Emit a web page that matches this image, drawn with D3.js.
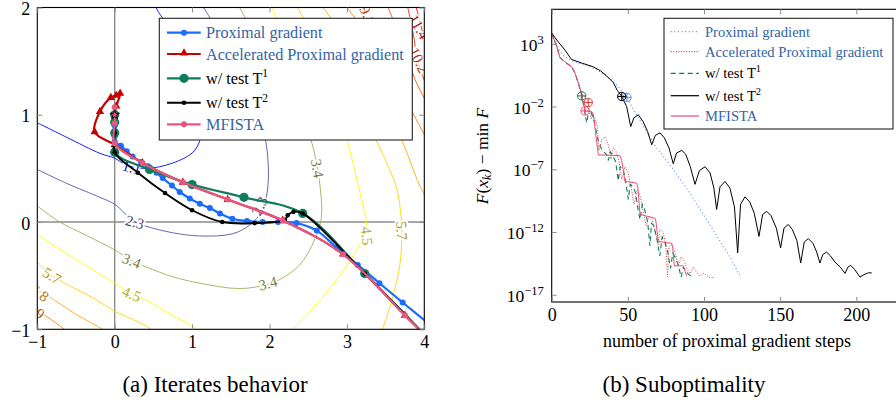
<!DOCTYPE html>
<html><head><meta charset="utf-8">
<script src="https://cdn.jsdelivr.net/npm/d3@7"></script>
<style>body{margin:0;background:#fff}svg{display:block}</style>
</head><body>
<svg id="c" width="896" height="403"></svg>
<script>
// ================= DATA =================
// Left panel: contour levels (pgfplots "hot" colormap)
const contourLevels = ["1.1","2.3","3.4","4.5","5.7","6.8","7.9","9.1","10.2","11.4"];
const contourColors = ["#0000ff","#5555aa","#aaaa55","#ffff00","#ffd400","#ffaa00","#ff8000","#ff5500","#ff2b00","#ff0000"];
const contour0 = [[-1.0,0.925],[-0.62,0.79],[-0.19,0.64],[0,0.595],[0.155,0.53],[0.41,0.50],[0.75,0.55],[1.01,0.65],[1.10,0.76],[1.16,1.04],[1.10,1.37],[0.90,1.70],[0.61,1.91],[0.52,2.02]];
const contour1 = [[-1.0,0.49],[-0.62,0.36],[-0.19,0.23],[0,0.165],[0.26,0.0],[0.41,-0.04],[0.75,-0.10],[1.10,-0.13],[1.52,-0.11],[1.74,-0.03],[1.91,0.11],[1.98,0.34],[1.98,0.58],[1.95,0.76],[1.85,1.14],[1.61,1.51],[1.29,1.84],[1.13,2.02]];
const contour2 = [[-1.02,0.16],[-0.71,0.0],[-0.35,-0.13],[0,-0.26],[0.22,-0.36],[0.41,-0.42],[0.75,-0.51],[1.10,-0.57],[1.61,-0.62],[1.98,-0.58],[2.17,-0.52],[2.39,-0.40],[2.58,-0.17],[2.67,0.04],[2.66,0.29],[2.62,0.50],[2.55,0.73],[2.39,1.04],[2.13,1.42],[1.81,1.75],[1.60,2.02]];
const contour3a = [[-1.02,-0.11],[-0.5,-0.35],[0,-0.57],[0.22,-0.67],[0.41,-0.73],[0.75,-0.87],[1.0,-0.97],[1.10,-1.03]];
const contour3b = [[2.26,-1.03],[2.30,-1.0],[2.69,-0.70],[3.04,-0.36],[3.22,-0.12],[3.25,0.0],[3.21,0.15],[3.13,0.39],[3.0,0.76],[2.78,1.18],[2.45,1.56],[2.09,1.91],[2.01,2.02]];
const contour4a = [[-1.02,-0.36],[-0.81,-0.50],[-0.65,-0.57],[-0.3,-0.70],[0,-0.83],[0.43,-0.98],[0.5,-1.03]];
const contour4b = [[3.44,-1.03],[3.53,-0.85],[3.68,-0.42],[3.71,-0.08],[3.70,0.05],[3.64,0.32],[3.38,0.76],[3.10,1.18],[2.71,1.60],[2.43,1.91],[2.35,2.02]];
const contour5a = [[-1.05,-0.60],[-0.96,-0.65],[-0.84,-0.70],[-0.5,-0.86],[-0.155,-1.0],[-0.1,-1.03]];
const contour5b = [[2.67,2.02],[3.04,1.65],[3.36,1.23],[3.71,0.76],[3.91,0.39],[3.99,0.27],[4.08,0.14]];
const contour6a = [[-1.05,-0.80],[-0.90,-0.87],[-0.65,-1.0],[-0.6,-1.03]];
const contour6b = [[2.98,2.02],[3.36,1.65],[3.68,1.28],[3.85,1.02],[3.99,0.83],[4.1,0.69]];
const contour7 = [[3.52,2.02],[3.75,1.61],[3.88,1.33],[4.01,1.14],[4.1,1.02]];
const contour8 = [[3.78,2.02],[3.86,1.75],[3.91,1.51],[4.0,1.32],[4.1,1.15]];
const contour9 = [[3.89,2.02],[3.95,1.85],[4.0,1.72],[4.1,1.55]];
const contourList = [[0,contour0],[1,contour1],[2,contour2],[3,contour3a],[3,contour3b],[4,contour4a],[4,contour4b],[5,contour5a],[5,contour5b],[6,contour6a],[6,contour6b],[7,contour7],[8,contour8],[9,contour9]];
// contour labels: level index, x, y, angle
const contourLabels = [[0,0.22,0.51,15],[1,0.26,0.0,15],[1,1.87,0.15,-65],[2,0.22,-0.36,22],[2,1.98,-0.57,-15],[2,2.62,0.50,80],
  [3,0.22,-0.67,22],[3,3.26,-0.13,85],[4,-0.81,-0.50,32],[4,3.71,-0.08,88],[5,-0.97,-0.66,35],[6,-1.02,-0.82,40],
  [7,3.27,1.93,65],[8,3.93,1.51,65],[9,3.93,1.82,60]];

// Left panel iterates
const proxGradIter = [[4.15,-1.0],[3.72,-0.75],[3.42,-0.57],[3.14,-0.40],[2.87,-0.24],[2.61,-0.08],[2.35,-0.01],[2.11,0.0],[1.91,0.0],[1.71,0.01],[1.52,0.03],[1.36,0.08],[1.23,0.13],[1.10,0.17],[0.97,0.22],[0.84,0.28],[0.74,0.34],[0.62,0.41],[0.54,0.46],[0.43,0.52],[0.34,0.56],[0.23,0.61],[0.155,0.66],[0.08,0.71],[0,0.75],[0,0.80],[0,0.85],[0,0.90],[0,0.95],[0,1.0]];
const accelIter = [[4.1,-1.12],[3.75,-0.87],[2.95,-0.30],[2.17,0.015],[1.46,0.21],[0.88,0.37],[0.36,0.55],[0,0.72],[-0.26,0.84],[-0.19,1.03],[-0.05,1.16],[0.02,1.18],[0.07,1.20],[0.02,1.08],[0,1.0]];
const test1Iter = [[4.15,-1.16],[3.23,-0.48],[2.43,0.08],[1.67,0.23],[1.0,0.35],[0.45,0.49],[0,0.65],[0,0.83],[0,0.93],[0,1.0]];
const test2Iter = [[4.15,-1.16],[3.23,-0.48],[2.43,0.08],[2.31,0.095],[2.235,0.063],[2.2,0.02],[1.81,-0.01],[1.39,0.0],[1.0,0.11],[0.65,0.27],[0.30,0.46],[0,0.65],[0,0.83],[0,1.0]];
const mfistaIter = [[4.1,-1.12],[3.75,-0.87],[2.95,-0.30],[2.17,0.015],[1.46,0.21],[0.88,0.37],[0.36,0.55],[0,0.735],[0,0.92],[0,1.07],[0,1.0]];
const minimizer = [0,1];

// Right panel: [step, log10(F - min F)]
const proxGradSub = [[0,3.85],[3,3.0],[5.4,2.4],[8,2.0],[12,1.72],[18,1.45],[23,1.32],[28,1.0],[32,0.75],[36,0.4],[40.5,0.0],[45,-0.6],[49.2,-1.28],[55,-2.5],[62,-3.95],[68.9,-5.3],[79.8,-7.0],[90.8,-8.9],[101.7,-11.0],[112.7,-13.15],[118,-14.2],[124.3,-15.66]];
const accelSub = [[0,3.85],[3.3,2.78],[5.4,1.9],[9.8,1.45],[13.1,1.18],[15.3,0.66],[17.5,-0.14],[19.7,-0.9],[22,-1.3],[24,-1.7],[25,-2.5],[26,-3.0],[27,-2.6],[28.5,-2.9],[30,-3.6],[31,-5.5],[33,-4.6],[35,-4.4],[37,-5.0],[39,-6.2],[40.5,-5.3],[42,-5.5],[44,-6.3],[46,-7.8],[48,-6.8],[50,-7.2],[52,-8.3],[54,-9.8],[56,-8.7],[58,-9.1],[60,-10.3],[62,-11.5],[64,-10.7],[66,-11.0],[68,-12.0],[70,-13.0],[71,-11.8],[73,-12.0],[75,-13.0],[76,-15.6],[77,-13.2],[79,-13.0],[81,-13.6],[83,-14.7],[85,-14.0],[87,-14.3],[89,-15.0],[91,-15.3],[93,-14.8],[95,-15.2],[97,-15.5],[100,-15.3],[103,-15.6],[107,-15.65]];
const test1Sub = [[0,3.85],[3.3,2.78],[5.4,1.9],[9.8,1.45],[13.1,1.18],[15.3,0.66],[17.5,-0.14],[19.7,-1.1],[21,-2.0],[23,-3.3],[24,-2.6],[26,-2.5],[28,-3.2],[30,-4.5],[32,-5.2],[34,-5.6],[36,-5.8],[37.2,-6.3],[38.5,-5.6],[40,-5.9],[42,-6.4],[43.7,-7.9],[45,-6.8],[47,-7.0],[49,-8.3],[50.3,-9.4],[51.5,-8.2],[53.6,-8.4],[55,-8.9],[57,-10.4],[58,-11.0],[59.5,-9.8],[61,-10.2],[63,-11.2],[64.5,-13.1],[65.5,-11.3],[67,-11.5],[69,-12.5],[71,-13.9],[72.5,-12.4],[74,-12.7],[76,-13.5],[78,-14.9],[79.5,-13.7],[81,-14.0],[83,-14.6],[85,-15.6],[86.5,-14.8],[88,-15.1],[90,-15.4],[93,-15.6]];
const test2Sub = [[0,3.85],[4,3.2],[8.7,2.5],[13,1.75],[20,1.45],[27,1.18],[32,0.85],[36,0.45],[40.5,-0.1],[43,-0.7],[46,-1.2],[49.2,-2.0],[51.9,-3.6],[54,-2.9],[56.9,-2.66],[60,-3.2],[63,-4.0],[65.7,-5.05],[68,-4.3],[71.1,-4.1],[74,-4.5],[77,-5.3],[79.8,-6.56],[82,-5.7],[85.4,-5.5],[88,-5.8],[91,-6.8],[94.1,-8.2],[97,-7.1],[100.7,-6.8],[104,-7.3],[106.5,-8.5],[108.3,-10.2],[110.5,-8.4],[113.8,-7.97],[117,-8.5],[120,-10.0],[122.1,-13.67],[124,-9.8],[126.9,-9.2],[130,-9.6],[133,-10.5],[136.1,-12.35],[138.5,-10.6],[141.2,-10.36],[144,-10.7],[147.5,-11.7],[150.3,-13.27],[152.5,-11.7],[155.3,-11.4],[158,-11.8],[161,-12.7],[163.5,-14.47],[165.8,-12.8],[168.5,-12.53],[171.5,-12.9],[174,-13.6],[176.1,-14.47],[178,-13.8],[180.5,-13.6],[183,-13.9],[186,-14.4],[189.5,-14.8],[192.6,-15.3],[194.5,-14.8],[196.3,-14.66],[199,-15.0],[202.4,-15.6],[205,-15.4],[208,-15.25],[210.1,-15.26]];
const mfistaSub = [[0,3.85],[3.3,2.78],[5.4,1.9],[9.8,1.45],[13.1,1.18],[15.3,0.66],[17.5,-0.14],[19.7,-1.07],[21.9,-2.35],[26.3,-2.4],[27.3,-2.6],[30.6,-5.85],[44.8,-5.92],[46,-6.3],[48.1,-7.97],[55.8,-8.1],[56.5,-8.4],[58,-10.6],[67.8,-10.9],[68.5,-11.2],[70,-12.75],[78.8,-12.9],[79.5,-13.3],[80.5,-14.7],[86.4,-14.7],[88.6,-15.5]];
// switch points marked with circled plus: [step, log10, series index]
const switchPoints = [[49.4,-1.27,0],[24.0,-1.68,1],[19.7,-1.15,2],[46.0,-1.2,3],[21.9,-2.35,4]];

const seriesNames = ["Proximal gradient","Accelerated Proximal gradient","w/ test T","w/ test T","MFISTA"];
const seriesSup = ["","","1","2",""];
const xTicksLeft = [-1,0,1,2,3,4];
const yTicksLeft = [-1,0,1,2];
const xTicksRight = [0,50,100,150,200];
const yTicksRightExp = [3,-2,-7,-12,-17];
const captions = ["(a) Iterates behavior","(b) Suboptimality"];

// ================= STYLE =================
const iterColors = ["#1a6cff","#c80000","#0f7d5b","#000000","#e5587f"];
const subColors = ["#4f8ff7","#e23a3a","#0f7d5b","#000000","#e8507a"];
const legendTextColors = ["#3465a4","#3465a4","#000","#000","#3465a4"];
const serif = "'Liberation Serif','DejaVu Serif',serif";
const minus = s => String(s).replace("-","\u2212");

const svg = d3.select("#c");
const defs = svg.append("defs");

// ================= LEFT PANEL =================
const xL = d3.scaleLinear().domain([-1,4]).range([37.3,424.3]);
const yL = d3.scaleLinear().domain([-1,2]).range([329.3,7.5]);
defs.append("clipPath").attr("id","clipL").append("rect")
  .attr("x",xL(-1)).attr("y",yL(2)).attr("width",xL(4)-xL(-1)).attr("height",yL(-1)-yL(2));
const gL = svg.append("g");
const pL = gL.append("g").attr("clip-path","url(#clipL)");

pL.append("line").attr("x1",xL(0)).attr("x2",xL(0)).attr("y1",yL(-1)).attr("y2",yL(2)).attr("stroke","#8c8c8c").attr("stroke-width",1.4);
pL.append("line").attr("x1",xL(-1)).attr("x2",xL(4)).attr("y1",yL(0)).attr("y2",yL(0)).attr("stroke","#8c8c8c").attr("stroke-width",1.4);

const lineL = d3.line().x(d=>xL(d[0])).y(d=>yL(d[1])).curve(d3.curveCatmullRom.alpha(0.5));
contourList.forEach(([li,pts])=>{
  pL.append("path").attr("d",lineL(pts)).attr("fill","none").attr("stroke",contourColors[li]).attr("stroke-width",0.9);
});
contourLabels.forEach(([li,x,y,a])=>{
  const col = d3.interpolateRgb(contourColors[li],"#333")(0.38);
  pL.append("text").attr("transform",`translate(${xL(x)},${yL(y)}) rotate(${a})`)
    .attr("text-anchor","middle").attr("dy","0.35em")
    .attr("font-family",serif).attr("font-size",15).attr("fill",col)
    .attr("stroke","#fff").attr("stroke-width",3.5).attr("paint-order","stroke")
    .text(contourLevels[li]);
});

const iterData = [proxGradIter, accelIter, test1Iter, test2Iter, mfistaIter];
const markerR = [3.0, 0, 4.6, 2.3, 3.0];
const lineW = [2.2, 2.2, 2.2, 1.9, 2.2];
iterData.forEach((pts,i)=>{
  pL.append("path").attr("d",lineL(pts)).attr("fill","none").attr("stroke",iterColors[i]).attr("stroke-width",lineW[i]);
  if(i===1){
    pL.selectAll(null).data(pts).enter().append("path")
      .attr("transform",d=>`translate(${xL(d[0])},${yL(d[1])})`)
      .attr("d",d3.symbol(d3.symbolTriangle,30)()).attr("fill",iterColors[i]);
  } else {
    pL.selectAll(null).data(pts).enter().append("circle")
      .attr("cx",d=>xL(d[0])).attr("cy",d=>yL(d[1])).attr("r",markerR[i]).attr("fill",iterColors[i]);
  }
});
pL.append("path").attr("transform",`translate(${xL(minimizer[0])},${yL(minimizer[1])})`)
  .attr("d",d3.symbol(d3.symbolStar,28)()).attr("fill","none").attr("stroke","#000").attr("stroke-width",1);

gL.append("rect").attr("x",xL(-1)).attr("y",yL(2)).attr("width",xL(4)-xL(-1)).attr("height",yL(-1)-yL(2))
  .attr("fill","none").attr("stroke","#000").attr("stroke-width",1.1);
function styleAxis(g, fs){
  g.select(".domain").remove();
  g.selectAll(".tick line").attr("stroke","#8c8c8c").attr("stroke-width",1);
  g.selectAll(".tick text").attr("font-family",serif).attr("font-size",fs).attr("fill","#000");
}
gL.append("g").attr("transform",`translate(0,${yL(-1)})`)
  .call(d3.axisBottom(xL).tickValues(xTicksLeft).tickSize(-5).tickPadding(6).tickFormat(minus)).call(g=>styleAxis(g,18));
gL.append("g").attr("transform",`translate(0,${yL(2)})`)
  .call(d3.axisTop(xL).tickValues(xTicksLeft).tickSize(-5).tickFormat("")).call(g=>styleAxis(g,16));
gL.append("g").attr("transform",`translate(${xL(-1)},0)`)
  .call(d3.axisLeft(yL).tickValues(yTicksLeft).tickSize(-5).tickPadding(7).tickFormat(minus)).call(g=>styleAxis(g,18))
  .call(g=>g.selectAll(".tick text").attr("dy","0.4em"));
gL.append("g").attr("transform",`translate(${xL(4)},0)`)
  .call(d3.axisRight(yL).tickValues(yTicksLeft).tickSize(-5).tickFormat("")).call(g=>styleAxis(g,16));

// left legend
const legL = gL.append("g");
legL.append("rect").attr("x",159.3).attr("y",18.3).attr("width",253).attr("height",121.7)
  .attr("fill","#fff").attr("stroke","#222").attr("stroke-width",1.1);
const legLRows = [32.7,54,78.3,102.7,124.3];
seriesNames.forEach((nm,i)=>{
  const y = legLRows[i];
  legL.append("line").attr("x1",167).attr("x2",200.7).attr("y1",y).attr("y2",y).attr("stroke",iterColors[i]).attr("stroke-width",lineW[i]);
  if(i===1) legL.append("path").attr("transform",`translate(184,${y-1})`).attr("d",d3.symbol(d3.symbolTriangle,30)()).attr("fill",iterColors[i]);
  else legL.append("circle").attr("cx",184).attr("cy",y).attr("r",markerR[i]).attr("fill",iterColors[i]);
  const t = legL.append("text").attr("x",206).attr("y",y+5.5).attr("font-family",serif).attr("font-size",16.2).attr("fill",legendTextColors[i]).text(nm);
  if(seriesSup[i]) t.append("tspan").attr("dy",-6.5).attr("font-size",11.5).text(seriesSup[i]);
});

// ================= RIGHT PANEL =================
const xR = d3.scaleLinear().domain([0,230]).range([551.7,902]);
const yR = d3.scaleLog().domain([Math.pow(10,-17.58),Math.pow(10,5.75)]).range([302,9.3]);
defs.append("clipPath").attr("id","clipR").append("rect")
  .attr("x",551.7).attr("y",9.3).attr("width",350).attr("height",292.7);
const gR = svg.append("g");
const pR = gR.append("g").attr("clip-path","url(#clipR)");
const lineR = d3.line().x(d=>xR(d[0])).y(d=>yR(Math.pow(10,d[1])));
const subData = [proxGradSub, accelSub, test1Sub, test2Sub, mfistaSub];
const dashes = ["1,2.6","1,1.6","5,3.5",null,null];
const subW = [1.1,1.0,1.1,1.0,1.0];
subData.forEach((pts,i)=>{
  const p = pR.append("path").attr("d",lineR(pts)).attr("fill","none").attr("stroke",subColors[i]).attr("stroke-width",subW[i]);
  if(dashes[i]) p.attr("stroke-dasharray",dashes[i]);
});
switchPoints.forEach(([k,e,si])=>{
  const cx = xR(k), cy = yR(Math.pow(10,e)), c = subColors[si];
  pR.append("circle").attr("cx",cx).attr("cy",cy).attr("r",4.2).attr("fill","none").attr("stroke",c).attr("stroke-width",1);
  pR.append("line").attr("x1",cx-4.2).attr("x2",cx+4.2).attr("y1",cy).attr("y2",cy).attr("stroke",c).attr("stroke-width",1);
  pR.append("line").attr("x1",cx).attr("x2",cx).attr("y1",cy-4.2).attr("y2",cy+4.2).attr("stroke",c).attr("stroke-width",1);
});
gR.append("rect").attr("x",551.7).attr("y",9.3).attr("width",350).attr("height",292.7)
  .attr("fill","none").attr("stroke","#000").attr("stroke-width",1.1);
gR.append("g").attr("transform","translate(0,302)")
  .call(d3.axisBottom(xR).tickValues(xTicksRight).tickSize(-5).tickPadding(6)).call(g=>styleAxis(g,18));
gR.append("g").attr("transform","translate(0,9.3)")
  .call(d3.axisTop(xR).tickValues(xTicksRight).tickSize(-5).tickFormat("")).call(g=>styleAxis(g,16));
const yAx = gR.append("g").attr("transform","translate(551.7,0)")
  .call(d3.axisLeft(yR).tickValues(yTicksRightExp.map(e=>Math.pow(10,e))).tickSize(-5).tickPadding(8).tickFormat(()=>"")).call(g=>styleAxis(g,17));
yAx.selectAll(".tick").each(function(d,i){
  const t = d3.select(this).append("text").attr("x",-8).attr("dy","0.38em").attr("text-anchor","end")
    .attr("font-family",serif).attr("font-size",17.5).attr("fill","#000").text("10");
  t.append("tspan").attr("dy",-7).attr("font-size",12.5).text(minus(yTicksRightExp[i]));
});
gR.append("text").attr("x",727).attr("y",347).attr("text-anchor","middle").attr("font-family",serif).attr("font-size",18).text("number of proximal gradient steps");
const yl = gR.append("text").attr("transform","translate(488,156) rotate(-90)").attr("text-anchor","middle").attr("font-family",serif).attr("font-size",17.5);
yl.append("tspan").attr("font-style","italic").text("F");
yl.append("tspan").text("(");
yl.append("tspan").attr("font-style","italic").text("x");
yl.append("tspan").attr("font-style","italic").attr("font-size",12).attr("dy",3).text("k");
yl.append("tspan").attr("dy",-3).text(") \u2212 min ");
yl.append("tspan").attr("font-style","italic").text("F");

// right legend
const legR = gR.append("g");
legR.append("rect").attr("x",664).attr("y",18.3).attr("width",229).attr("height",110.7)
  .attr("fill","#fff").attr("stroke","#222").attr("stroke-width",1.1);
const legRRows = [31.7,51.7,73.3,95.7,116];
seriesNames.forEach((nm,i)=>{
  const y = legRRows[i];
  const l = legR.append("line").attr("x1",670.7).attr("x2",699).attr("y1",y).attr("y2",y).attr("stroke",subColors[i]).attr("stroke-width",subW[i]+0.2);
  if(dashes[i]) l.attr("stroke-dasharray",dashes[i]);
  const t = legR.append("text").attr("x",705).attr("y",y+5).attr("font-family",serif).attr("font-size",14.6).attr("fill",legendTextColors[i]).text(nm);
  if(seriesSup[i]) t.append("tspan").attr("dy",-6).attr("font-size",10.5).text(seriesSup[i]);
});

// captions
svg.append("text").attr("x",215).attr("y",392).attr("text-anchor","middle").attr("font-family",serif).attr("font-size",23).text(captions[0]);
svg.append("text").attr("x",684).attr("y",392).attr("text-anchor","middle").attr("font-family",serif).attr("font-size",23).text(captions[1]);
</script>
</body></html>
